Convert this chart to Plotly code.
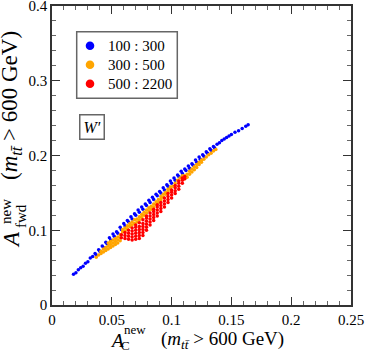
import plotly.graph_objects as go

# scan points: (A_C, A_fwd)
blue_pts = [
    (0.018, 0.041), (0.020, 0.043), (0.022, 0.047), (0.024, 0.050), (0.026, 0.052),
    (0.028, 0.056), (0.030, 0.058), (0.032, 0.063), (0.034, 0.065), (0.036, 0.069),
    (0.037, 0.067), (0.039, 0.074), (0.040, 0.072), (0.042, 0.079), (0.043, 0.077),
    (0.045, 0.084), (0.046, 0.082), (0.048, 0.090), (0.049, 0.087), (0.051, 0.095),
    (0.052, 0.092), (0.054, 0.098), (0.055, 0.096), (0.057, 0.104), (0.058, 0.101),
    (0.060, 0.109), (0.061, 0.106), (0.063, 0.113), (0.064, 0.111), (0.066, 0.118),
    (0.067, 0.115), (0.069, 0.122), (0.070, 0.120), (0.072, 0.127), (0.073, 0.124),
    (0.075, 0.131), (0.076, 0.128), (0.078, 0.135), (0.079, 0.133), (0.081, 0.140),
    (0.082, 0.137), (0.084, 0.144), (0.085, 0.141), (0.087, 0.148), (0.088, 0.146),
    (0.090, 0.152), (0.091, 0.150), (0.093, 0.157), (0.094, 0.154), (0.096, 0.161),
    (0.097, 0.159), (0.099, 0.166), (0.100, 0.163), (0.102, 0.170), (0.103, 0.167),
    (0.105, 0.174), (0.106, 0.172), (0.108, 0.179), (0.109, 0.176), (0.111, 0.182),
    (0.112, 0.180), (0.114, 0.186), (0.115, 0.183), (0.117, 0.189), (0.118, 0.187),
    (0.120, 0.194), (0.121, 0.191), (0.123, 0.198), (0.124, 0.195), (0.126, 0.201),
    (0.127, 0.199), (0.129, 0.205), (0.130, 0.203), (0.132, 0.209), (0.133, 0.207),
    (0.135, 0.212), (0.136, 0.210), (0.138, 0.215), (0.140, 0.217), (0.142, 0.220),
    (0.144, 0.222), (0.146, 0.224), (0.148, 0.226), (0.150, 0.228), (0.153, 0.231),
    (0.156, 0.233), (0.159, 0.236), (0.162, 0.239), (0.164, 0.241),
]

orange_pts = [
    (0.037, 0.064), (0.039, 0.067), (0.041, 0.069), (0.041, 0.072), (0.043, 0.071),
    (0.043, 0.075), (0.045, 0.073), (0.045, 0.077), (0.047, 0.075), (0.047, 0.079),
    (0.047, 0.083), (0.049, 0.077), (0.049, 0.081), (0.049, 0.085), (0.051, 0.079),
    (0.051, 0.083), (0.051, 0.087), (0.053, 0.081), (0.053, 0.085), (0.053, 0.089),
    (0.055, 0.083), (0.055, 0.087), (0.055, 0.091), (0.057, 0.086), (0.057, 0.090),
    (0.057, 0.094), (0.059, 0.098), (0.059, 0.101), (0.061, 0.099), (0.061, 0.103),
    (0.063, 0.102), (0.063, 0.106), (0.065, 0.105), (0.065, 0.109), (0.067, 0.107),
    (0.067, 0.111), (0.069, 0.109), (0.069, 0.114), (0.071, 0.111), (0.071, 0.115),
    (0.073, 0.114), (0.073, 0.118), (0.075, 0.117), (0.075, 0.121), (0.077, 0.120),
    (0.077, 0.124), (0.079, 0.123), (0.079, 0.127), (0.081, 0.126), (0.081, 0.130),
    (0.083, 0.128), (0.083, 0.132), (0.085, 0.131), (0.085, 0.135), (0.087, 0.134),
    (0.087, 0.138), (0.089, 0.137), (0.089, 0.141), (0.091, 0.141), (0.091, 0.145),
    (0.093, 0.144), (0.093, 0.148), (0.095, 0.148), (0.095, 0.151), (0.097, 0.152),
    (0.097, 0.155), (0.099, 0.155), (0.099, 0.158), (0.101, 0.159), (0.103, 0.163),
    (0.105, 0.167), (0.107, 0.170), (0.109, 0.173), (0.111, 0.169), (0.111, 0.173),
    (0.113, 0.171), (0.113, 0.175), (0.115, 0.175), (0.115, 0.179), (0.117, 0.178),
    (0.117, 0.182), (0.119, 0.181), (0.119, 0.185), (0.121, 0.184), (0.121, 0.188),
    (0.123, 0.188), (0.123, 0.191), (0.125, 0.191), (0.125, 0.194), (0.127, 0.195),
    (0.129, 0.198), (0.131, 0.201), (0.133, 0.203), (0.135, 0.206), (0.137, 0.208),
]

red_pts = [
    (0.058, 0.090), (0.058, 0.094), (0.061, 0.089), (0.061, 0.093), (0.061, 0.097),
    (0.064, 0.088), (0.064, 0.092), (0.064, 0.096), (0.064, 0.100), (0.067, 0.087),
    (0.067, 0.091), (0.067, 0.095), (0.067, 0.099), (0.067, 0.103), (0.070, 0.088),
    (0.070, 0.092), (0.070, 0.096), (0.070, 0.100), (0.070, 0.104), (0.070, 0.107),
    (0.073, 0.089), (0.073, 0.093), (0.073, 0.097), (0.073, 0.101), (0.073, 0.105),
    (0.073, 0.110), (0.076, 0.093), (0.076, 0.097), (0.076, 0.101), (0.076, 0.105),
    (0.076, 0.109), (0.076, 0.114), (0.079, 0.100), (0.079, 0.104), (0.079, 0.108),
    (0.079, 0.112), (0.079, 0.116), (0.079, 0.119), (0.082, 0.107), (0.082, 0.111),
    (0.082, 0.115), (0.082, 0.119), (0.082, 0.123), (0.085, 0.113), (0.085, 0.117),
    (0.085, 0.121), (0.085, 0.125), (0.085, 0.128), (0.088, 0.119), (0.088, 0.123),
    (0.088, 0.127), (0.088, 0.131), (0.088, 0.134), (0.091, 0.125), (0.091, 0.129),
    (0.091, 0.133), (0.091, 0.137), (0.094, 0.131), (0.094, 0.135), (0.094, 0.139),
    (0.094, 0.143), (0.097, 0.137), (0.097, 0.141), (0.097, 0.145), (0.097, 0.149),
    (0.100, 0.143), (0.100, 0.147), (0.100, 0.151), (0.100, 0.154), (0.103, 0.149),
    (0.103, 0.153), (0.103, 0.157), (0.103, 0.160), (0.106, 0.155), (0.106, 0.159),
    (0.106, 0.163), (0.106, 0.166), (0.109, 0.163), (0.109, 0.167), (0.109, 0.170),
    (0.111, 0.169), (0.111, 0.172),
]

series = [
    ("100 : 300", blue_pts, "#0000ff"),
    ("300 : 500", orange_pts, "#ffa500"),
    ("500 : 2200", red_pts, "#ff0000"),
]

x_ticks = [0, 0.05, 0.1, 0.15, 0.2, 0.25]
x_tick_text = ["0", "0.05", "0.1", "0.15", "0.2", "0.25"]
y_ticks = [0, 0.1, 0.2, 0.3, 0.4]
y_tick_text = ["0", "0.1", "0.2", "0.3", "0.4"]

SERIF = "Liberation Serif, serif"
FRAME = "#333333"
BOXC = "#666666"

# plot area in pixels: x 52..351, y 6..305
def px(p):
    return (p - 52) / 299.0

def py(p):
    return (305 - p) / 299.0

fig = go.Figure()
for name, pts, col in series:
    fig.add_trace(go.Scatter(
        x=[p[0] for p in pts], y=[p[1] for p in pts],
        mode="markers", name=name, showlegend=False,
        marker=dict(color=col, size=3.5, symbol="circle", line=dict(width=0)),
    ))

axis_common = dict(
    showline=True, linecolor=FRAME, linewidth=1.5, mirror="allticks",
    ticks="inside", ticklen=8, tickwidth=1, tickcolor=FRAME,
    showgrid=False, zeroline=False, automargin=False,
    ticklabeloverflow="allow",
    tickfont=dict(family=SERIF, size=15, color="black"),
)
fig.update_xaxes(range=[0, 0.25], tickvals=x_ticks, ticktext=x_tick_text,
                 minor=dict(dtick=0.01, ticks="inside", ticklen=4, tickcolor="#666666"),
                 **axis_common)
fig.update_yaxes(range=[0, 0.4], tickvals=y_ticks, ticktext=y_tick_text,
                 minor=dict(dtick=0.02, ticks="inside", ticklen=4, tickcolor="#666666"),
                 **axis_common)

ann = []
shapes = []
# x axis title
ann.append(dict(x=px(117), y=py(340), text="<i>A</i>", font=dict(size=19)))
ann.append(dict(x=px(135), y=py(329), text="new", font=dict(size=13)))
ann.append(dict(x=px(125), y=py(345), text="C", font=dict(size=13)))
ann.append(dict(x=px(222), y=py(340), text="(<i>m</i><sub><i>tt\u0304</i></sub> > 600 GeV)",
                font=dict(size=19)))
# y axis title (rotated)
ann.append(dict(x=px(11), y=py(240), text="<i>A</i>", font=dict(size=23), textangle=-90))
ann.append(dict(x=px(6), y=py(212), text="new", font=dict(size=15), textangle=-90))
ann.append(dict(x=px(21), y=py(216), text="fwd", font=dict(size=15), textangle=-90))
ann.append(dict(x=px(11), y=py(106), text="(<i>m</i><sub><i>tt\u0304</i></sub> > 600 GeV)",
                font=dict(size=23), textangle=-90))
# W' label
ann.append(dict(x=px(91.5), y=py(127.5), text="<i>W\u2032</i>", font=dict(size=16),
                bordercolor=BOXC, borderwidth=1.5, borderpad=3))

# boxed key: dot + label per series
shapes.append(dict(type="rect", xref="paper", yref="paper",
                   x0=px(76.7), x1=px(177.3), y0=py(98.3), y1=py(31.7),
                   line=dict(color=BOXC, width=1.5)))
for i, (name, pts, col) in enumerate(series):
    row = py(45.7 + 19 * i)
    shapes.append(dict(type="circle", xref="paper", yref="paper",
                       xsizemode="pixel", ysizemode="pixel",
                       xanchor=px(90), yanchor=row, x0=-4.3, x1=4.3, y0=-4.3, y1=4.3,
                       fillcolor=col, line=dict(width=0)))
    ann.append(dict(x=px(106), y=row, text=name, xanchor="left", font=dict(size=15)))

for a in ann:
    a.setdefault("xref", "paper")
    a.setdefault("yref", "paper")
    a.setdefault("showarrow", False)
    a.setdefault("xanchor", "center")
    a.setdefault("yanchor", "middle")
    a["font"] = dict(family=SERIF, color="black", **a["font"])

fig.update_layout(
    width=365, height=351,
    margin=dict(l=52, r=14, t=6, b=46, autoexpand=False),
    paper_bgcolor="white", plot_bgcolor="white",
    showlegend=False,
    annotations=ann,
    shapes=shapes,
)

fig.write_html("out.html", config={"displayModeBar": False},
               post_script="document.body.style.margin='0';")
